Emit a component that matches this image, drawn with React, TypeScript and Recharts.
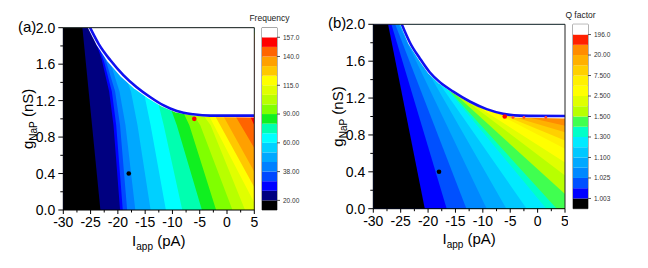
import React from "react";
import {
  ComposedChart,
  Area,
  Line,
  XAxis,
  YAxis,
  ReferenceLine,
  ReferenceArea,
  BarChart,
  Bar,
} from "recharts";

const FONT = '"Liberation Sans", Arial, Helvetica, sans-serif';

const iTicks = [-30, -27.5, -25, -22.5, -20, -17.5, -15, -12.5, -10, -7.5, -5, -2.5, 0, 2.5, 5];
const gTicks = [0, 0.2, 0.4, 0.6, 0.8, 1.0, 1.2, 1.4, 1.6, 1.8, 2.0];

// (a) frequency map: colour levels, low -> high
const freqColors = [
  "#000000", "#000080", "#0000ff", "#0048ff", "#0080ff", "#00a8ff", "#00d0ff", "#00ffff", "#00ffb0",
  "#10f020", "#80ff00", "#b8ff00", "#e0ff00", "#ffff00", "#ffc800", "#ffa000", "#ff6400", "#ff0000",
];
// boundary between level k and k+1, read as [I, g] points from the top (curve) down to the edge
const freqBounds = [
  [[-26.5, 2.0], [-23.2, 0]],
  [[-24.8, 1.97], [-23.0, 1.66], [-21.6, 1.3], [-20.8, 0.93], [-19.6, 0]],
  [[-24.1, 1.9], [-22.5, 1.62], [-21.1, 1.3], [-20.3, 0.93], [-19.1, 0]],
  [[-23.2, 1.82], [-21.9, 1.58], [-20.5, 1.3], [-19.6, 0.93], [-18.3, 0]],
  [[-21.6, 1.66], [-19.7, 1.3], [-18.6, 0.93], [-16.8, 0]],
  [[-18.4, 1.43], [-17.6, 1.3], [-16.4, 0.93], [-14.0, 0]],
  [[-15.2, 1.28], [-14.0, 0.93], [-11.2, 0]],
  [[-12.6, 1.17], [-11.6, 0.93], [-8.2, 0]],
  [[-10.3, 1.11], [-9.2, 0.93], [-4.6, 0]],
  [[-8.0, 1.07], [-6.9, 0.93], [-2.0, 0]],
  [[-6.2, 1.05], [-4.9, 0.93], [1.0, 0]],
  [[-4.3, 1.037], [-3.0, 0.93], [3.3, 0]],
  [[-3.3, 1.035], [5, 0.08]],
  [[-2.2, 1.035], [5, 0.25]],
  [[-0.7, 1.035], [5, 0.42]],
  [[1.5, 1.035], [5, 0.68]],
  [[4.2, 1.035], [5, 0.93]],
];
const freqGap = [
  [-25.5, 2.0], [-23.9, 1.81], [-21.9, 1.63], [-19.5, 1.465], [-17.1, 1.335], [-14.5, 1.225],
  [-12.0, 1.135], [-9.4, 1.07], [-6.3, 1.036], [-3.2, 1.02], [5, 1.015],
];
const freqEdge = [
  [-25.1, 2.0], [-23.5, 1.82], [-21.4, 1.645], [-19.0, 1.48], [-16.6, 1.35], [-14.1, 1.24],
  [-11.7, 1.15], [-9.2, 1.086], [-6.2, 1.05], [-3.1, 1.035], [5, 1.035],
];
const freqBarTicks = [1, 4, 7, 10, 13, 16, 18];
const freqBarLabels = ["20.00", "38.00", "60.00", "90.00", "115.0", "140.0", "157.0"];

// (b) Q factor map
const qColors = [
  "#000000", "#0000ff", "#0050ff", "#0088ff", "#00a8ff", "#00c8ff", "#00eaff", "#00ffc8", "#40ff50",
  "#b8ff00", "#e0ff00", "#ffff00", "#fff000", "#ffd000", "#ffb000", "#ff8c00", "#ff2000",
];
const qBounds = [
  [[-27.3, 2.0], [-20.6, 0]],
  [[-26.7, 2.0], [-16.6, 0]],
  [[-26.0, 2.0], [-13.0, 0]],
  [[-25.4, 2.0], [-9.3, 0]],
  [[-24.3, 1.93], [-5.7, 0]],
  [[-23.6, 1.84], [-2.0, 0]],
  [[-22.6, 1.73], [1.6, 0]],
  [[-21.5, 1.63], [3.5, 0]],
  [[-20.2, 1.52], [5, 0.16]],
  [[-19.0, 1.44], [5, 0.36]],
  [[-17.8, 1.37], [5, 0.5]],
  [[-16.2, 1.3], [5, 0.65]],
  [[-11.8, 1.15], [5, 0.74]],
  [[-7.5, 1.05], [5, 0.83]],
  [[-3.2, 1.01], [5, 0.9]],
  [[0.0, 1.007], [5, 0.98]],
];
const qGap = [
  [-25.1, 2.0], [-23.6, 1.79], [-21.8, 1.62], [-20.0, 1.47], [-18.1, 1.36], [-15.6, 1.26],
  [-12.5, 1.15], [-9.4, 1.07], [-6.3, 1.02], [-4.0, 0.99], [5, 0.978],
];
const qEdge = [
  [-24.8, 2.0], [-23.3, 1.8], [-21.5, 1.63], [-19.7, 1.48], [-17.8, 1.37], [-15.4, 1.27],
  [-12.3, 1.16], [-9.3, 1.08], [-6.3, 1.03], [-3.2, 1.01], [5, 1.005],
];
const qBarTicks = [1, 3, 5, 7, 9, 11, 13, 15, 17];
const qBarLabels = ["1.003", "1.025", "1.100", "1.300", "1.500", "2.500", "7.500", "20.00", "196.0"];

const redDot = [[-6, 1.0]];
const blackDot = [[-18, 0.4]];
const qSideDots = [[-4.5, 0.99], [-2.5, 0.99], [1.5, 0.99]];

// off-plot filler so every level polygon closes to the right of the frame
function bandRows(pts: number[][]) {
  const rows = pts.map(([x, g]) => ({ x, g }));
  if (pts[0][1] < 2) rows.unshift({ x: 6, g: 2 });
  if (pts[pts.length - 1][1] > 0) rows.push({ x: 6, g: 0 });
  return rows;
}

function ITick(p: any) {
  const v = p.payload.value;
  const major = Math.abs(v % 5) < 1e-6;
  return (
    <g>
      <line x1={p.x} x2={p.x} y1={p.y} y2={p.y + (major ? 4 : 2.5)} stroke="#000" />
      {major && (
        <text x={p.x} y={p.y + 17} textAnchor="middle" fontSize={14} fontFamily={FONT} fill="#000">
          {v}
        </text>
      )}
    </g>
  );
}

function GTick(p: any) {
  const v = p.payload.value;
  const major = Math.abs(v / 0.4 - Math.round(v / 0.4)) < 1e-6;
  return (
    <g>
      <line x1={p.x} x2={p.x - (major ? 5 : 3)} y1={p.y} y2={p.y} stroke="#000" />
      {major && (
        <text x={p.x - 8} y={p.y + 5} textAnchor="end" fontSize={14} fontFamily={FONT} fill="#000">
          {v.toFixed(1)}
        </text>
      )}
    </g>
  );
}

const xTitle = (p: any) => {
  const vb = p.viewBox;
  return (
    <text x={vb.x + vb.width / 2} y={vb.y + 35.5} textAnchor="middle" fontSize={15} fontFamily={FONT} fill="#000">
      I<tspan fontSize={10} dy={4}>app</tspan>
      <tspan dy={-4}> (pA)</tspan>
    </text>
  );
};

const yTitle = (tag: string) => (p: any) => {
  const vb = p.viewBox;
  const cx = 28;
  const cy = vb.y + vb.height / 2;
  return (
    <g>
      <text
        x={cx}
        y={cy + 5}
        transform={`rotate(-90 ${cx} ${cy})`}
        textAnchor="middle"
        fontSize={15}
        fontFamily={FONT}
        fill="#000"
      >
        g<tspan fontSize={10} dy={4}>NaP</tspan>
        <tspan dy={-4}> (nS)</tspan>
      </text>
      <text x={18} y={vb.y + 4} fontSize={15} fontFamily={FONT} fill="#000">
        {tag}
      </text>
    </g>
  );
};

interface PanelProps {
  colors: string[];
  bounds: number[][][];
  gap: number[][];
  edge: number[][];
  top: number;
  bottom: number;
  right: number;
  tag: string;
  sideDots?: number[][];
}

function Panel({ colors, bounds, gap, edge, top, bottom, right, tag, sideDots }: PanelProps) {
  const layers = colors
    .map((fill, k) => ({
      fill,
      rows: k < bounds.length ? bandRows(bounds[k]) : [{ x: 6, g: 2 }, { x: 6, g: 0 }],
    }))
    .reverse();
  const pts = (a: number[][]) => a.map(([x, g]) => ({ x, g }));
  return (
    <ComposedChart
      layout="vertical"
      width={258}
      height={268}
      margin={{ top, right: 258 - right, bottom: 268 - bottom - 30, left: 23.3 }}
    >
      <XAxis
        type="number"
        domain={[-30, 5]}
        ticks={iTicks}
        interval={0}
        allowDataOverflow
        height={30}
        tickSize={0}
        tickMargin={0}
        tickLine={false}
        axisLine={{ stroke: "#000" }}
        tick={ITick}
        label={xTitle}
      />
      <YAxis
        type="number"
        dataKey="g"
        domain={[0, 2]}
        reversed
        ticks={gTicks}
        interval={0}
        allowDataOverflow
        width={40}
        tickSize={0}
        tickMargin={0}
        tickLine={false}
        axisLine={{ stroke: "#000" }}
        tick={GTick}
        label={yTitle(tag)}
      />
      {layers.map((l, i) => (
        <Area
          key={i}
          data={l.rows}
          dataKey="x"
          baseValue={-30}
          type="linear"
          fill={l.fill}
          fillOpacity={1}
          stroke="none"
          isAnimationActive={false}
        />
      ))}
      <Area
        data={gap.map(([lo, g]) => ({ g, r: [lo, 6] }))}
        dataKey="r"
        type="linear"
        fill="#ffffff"
        fillOpacity={1}
        stroke="none"
        isAnimationActive={false}
      />
      <Line
        data={pts(edge)}
        dataKey="x"
        type="monotoneX"
        stroke="#1010f0"
        strokeWidth={2.6}
        dot={false}
        isAnimationActive={false}
      />
      {sideDots && (
        <Line
          data={pts(sideDots)}
          dataKey="x"
          stroke="none"
          dot={{ r: 1.4, fill: "#ff4a30", stroke: "none" }}
          isAnimationActive={false}
        />
      )}
      <Line
        data={pts(redDot)}
        dataKey="x"
        stroke="none"
        dot={{ r: 2.3, fill: "#ff0000", stroke: "none" }}
        isAnimationActive={false}
      />
      <Line
        data={pts(blackDot)}
        dataKey="x"
        stroke="none"
        dot={{ r: 2.3, fill: "#000000", stroke: "none" }}
        isAnimationActive={false}
      />
      <ReferenceLine x={5} stroke="#222" />
      <ReferenceLine y={2} stroke="#222" />
    </ComposedChart>
  );
}

interface BarProps {
  colors: string[];
  ticks: number[];
  labels: string[];
  title: string;
  top: number;
  bottom: number;
}

function ColorBar({ colors, ticks, labels, title, top, bottom }: BarProps) {
  const segs = [...colors, "#ffffff"];
  const row: Record<string, any> = { name: "c" };
  segs.forEach((_, i) => (row[`s${i}`] = 1));
  const tick = (p: any) => {
    const i = ticks.indexOf(p.payload.value);
    return (
      <g>
        <line x1={p.x} x2={p.x + 3} y1={p.y} y2={p.y} stroke="#555" />
        <text x={p.x + 6} y={p.y + 2.3} fontSize={6.5} fontFamily={FONT} fill="#333">
          {labels[i]}
        </text>
      </g>
    );
  };
  const head = (p: any) => {
    const vb = p.viewBox;
    return (
      <text x={vb.x - 7.5} y={vb.y - 6.5} textAnchor="middle" fontSize={8.5} fontFamily={FONT} fill="#222">
        {title}
      </text>
    );
  };
  return (
    <BarChart
      width={70}
      height={268}
      data={[row]}
      margin={{ top, right: 3, bottom: 268 - bottom, left: 17 }}
      barCategoryGap={0}
      barGap={0}
    >
      <XAxis dataKey="name" hide />
      <YAxis
        type="number"
        orientation="right"
        domain={[0, segs.length]}
        ticks={ticks}
        interval={0}
        width={35}
        tickSize={0}
        tickMargin={0}
        tickLine={false}
        axisLine={false}
        tick={tick}
        label={head}
      />
      {segs.map((c, i) => (
        <Bar key={i} dataKey={`s${i}`} stackId="cb" fill={c} stroke="none" isAnimationActive={false} />
      ))}
      <ReferenceArea y1={0} y2={segs.length} fill="none" stroke="#666" />
    </BarChart>
  );
}

export default function App() {
  return (
    <div
      style={{ position: "absolute", left: 0, top: 0, width: 648, height: 268, background: "#fff", overflow: "hidden" }}
    >
      <div style={{ position: "absolute", left: 0, top: 0 }}>
        <Panel
          colors={freqColors}
          bounds={freqBounds}
          gap={freqGap}
          edge={freqEdge}
          top={27.7}
          bottom={210}
          right={254.3}
          tag="(a)"
        />
      </div>
      <div style={{ position: "absolute", left: 245, top: 0 }}>
        <ColorBar
          colors={freqColors}
          ticks={freqBarTicks}
          labels={freqBarLabels}
          title="Frequency"
          top={27.7}
          bottom={210}
        />
      </div>
      <div style={{ position: "absolute", left: 310, top: 0 }}>
        <Panel
          colors={qColors}
          bounds={qBounds}
          gap={qGap}
          edge={qEdge}
          top={24.3}
          bottom={208.7}
          right={255}
          tag="(b)"
          sideDots={qSideDots}
        />
      </div>
      <div style={{ position: "absolute", left: 556, top: 0 }}>
        <ColorBar colors={qColors} ticks={qBarTicks} labels={qBarLabels} title="Q factor" top={24.3} bottom={208.7} />
      </div>
    </div>
  );
}
